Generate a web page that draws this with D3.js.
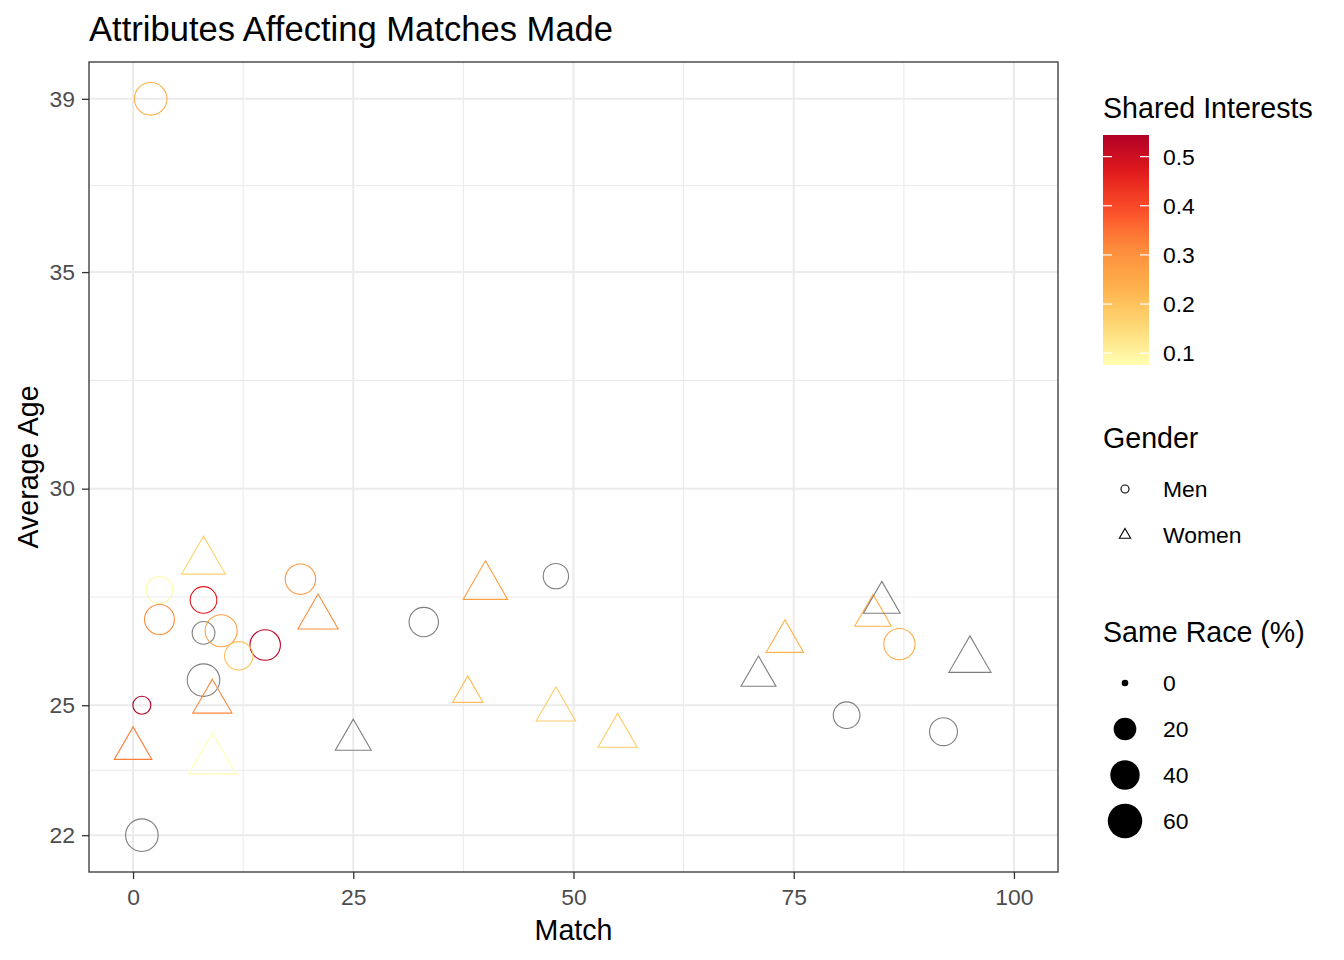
<!DOCTYPE html>
<html>
<head>
<meta charset="utf-8">
<script src="https://cdn.jsdelivr.net/npm/d3@7"></script>
<style>
	body { margin: 0; background: #fff; }
	svg { display: block; font-family: "Liberation Sans", Arial, sans-serif; }
</style>
</head>
<body>
<svg id="chart" width="1344" height="960"></svg>
<script>
// data, one entry per couple group
var match = [2, 8, 3, 8, 3, 8, 10, 15, 12, 19, 21, 8, 9, 1, 0, 9, 1, 25, 33, 38, 40, 48, 48, 55, 71, 74, 81, 84, 85, 87, 92, 95];
var avgAge = [39.0, 28.32, 27.66, 27.43, 26.98, 26.67, 26.72, 26.39, 26.14, 27.91, 27.03, 25.58, 25.08, 25.0, 24.0, 23.73, 22.0, 24.2, 26.92, 25.27, 27.74, 27.98, 24.9, 24.29, 25.67, 26.47, 24.77, 27.07, 27.37, 26.41, 24.39, 26.04];
var sharedInterests = [0.24, 0.17, 0.09, 0.47, 0.31, null, 0.27, 0.53, 0.20, 0.29, 0.31, null, 0.32, 0.544, 0.33, 0.076, null, null, null, 0.21, 0.27, null, 0.18, 0.18, null, 0.23, null, 0.23, null, 0.25, null, null];
var sameRace = [52, 52, 31, 31, 42, 20, 50, 44, 37, 44, 42, 52, 39, 10, 35, 63, 52, 31, 40, 20, 54, 27, 40, 39, 29, 35, 31, 33, 33, 47, 35, 47];
var gender = ["Men", "Women", "Men", "Men", "Men", "Men", "Men", "Men", "Men", "Men", "Women", "Men", "Women", "Men", "Women", "Women", "Men", "Women", "Men", "Women", "Women", "Men", "Women", "Women", "Women", "Women", "Men", "Women", "Women", "Men", "Men", "Women"];

var xTicks = [0, 25, 50, 75, 100];
var yTicks = [22, 25, 30, 35, 39];
var colorTicks = [0.1, 0.2, 0.3, 0.4, 0.5];
var sizeBreaks = [0, 20, 40, 60];
var genders = ["Men", "Women"];
var ylorrd = ["#FFFFB2", "#FED976", "#FEB24C", "#FD8D3C", "#FC4E2A", "#E31A1C", "#B10026"];

(function(){
	'use strict';

	var svg = d3.select("#chart");
	var panel = {left: 89, top: 62, right: 1058, bottom: 872};

	var points = match.map(function(m, i){
		return {x: m, y: avgAge[i], c: sharedInterests[i], s: sameRace[i], g: gender[i]};
	});

	// scales, expanded 5% like ggplot does
	var x = d3.scaleLinear().domain([-5, 105]).range([panel.left, panel.right]);
	var y = d3.scaleLinear().domain([21.15, 39.85]).range([panel.bottom, panel.top]);
	var r = d3.scaleSqrt().domain([0, 64]).range([3.3, 17.7]);

	var cExtent = d3.extent(sharedInterests.filter(function(d){ return d !== null; }));
	var color = d3.scaleLinear()
		.domain(d3.range(ylorrd.length).map(function(i){
			return cExtent[0] + (cExtent[1] - cExtent[0]) * i / (ylorrd.length - 1);
		}))
		.range(ylorrd)
		.interpolate(d3.interpolateLab);
	function colorOf(v){ return v === null ? "#7F7F7F" : color(v); }

	// triangle with the same area as the circle of radius R (R graphics pch 2)
	function triangle(R){
		var rc = 1.5551 * R, xc = 1.3468 * R, yc = 0.7776 * R;
		return "M0," + (-rc) + "L" + xc + "," + yc + "L" + (-xc) + "," + yc + "Z";
	}

	// title
	svg.append("text")
		.attr("x", 89).attr("y", 41)
		.attr("font-size", 34.6)
		.text("Attributes Affecting Matches Made");

	// grid
	var grid = svg.append("g");
	var xMinor = [12.5, 37.5, 62.5, 87.5];
	var yMinor = [23.5, 27.5, 32.5, 37];
	grid.selectAll(".xminor").data(xMinor).enter().append("line")
		.attr("x1", x).attr("x2", x)
		.attr("y1", panel.top).attr("y2", panel.bottom)
		.attr("stroke", "#EBEBEB").attr("stroke-width", 1.1);
	grid.selectAll(".yminor").data(yMinor).enter().append("line")
		.attr("y1", y).attr("y2", y)
		.attr("x1", panel.left).attr("x2", panel.right)
		.attr("stroke", "#EBEBEB").attr("stroke-width", 1.1);
	grid.selectAll(".xmajor").data(xTicks).enter().append("line")
		.attr("x1", x).attr("x2", x)
		.attr("y1", panel.top).attr("y2", panel.bottom)
		.attr("stroke", "#EBEBEB").attr("stroke-width", 2);
	grid.selectAll(".ymajor").data(yTicks).enter().append("line")
		.attr("y1", y).attr("y2", y)
		.attr("x1", panel.left).attr("x2", panel.right)
		.attr("stroke", "#EBEBEB").attr("stroke-width", 2);

	// points
	svg.append("g").selectAll("path")
		.data(points)
		.enter().append("path")
		.attr("transform", function(d){ return "translate(" + x(d.x) + "," + y(d.y) + ")"; })
		.attr("d", function(d){
			var R = r(d.s);
			if(d.g === "Women") return triangle(R);
			return d3.arc()({innerRadius: 0, outerRadius: R, startAngle: 0, endAngle: 2 * Math.PI});
		})
		.attr("fill", "none")
		.attr("stroke", function(d){ return colorOf(d.c); })
		.attr("stroke-width", 1.1)
		.attr("stroke-linejoin", "miter");

	// panel border
	svg.append("rect")
		.attr("x", panel.left).attr("y", panel.top)
		.attr("width", panel.right - panel.left).attr("height", panel.bottom - panel.top)
		.attr("fill", "none").attr("stroke", "#333333").attr("stroke-width", 1.3);

	// axes
	var xAxis = d3.axisBottom(x).tickValues(xTicks).tickSize(7).tickPadding(10);
	var yAxis = d3.axisLeft(y).tickValues(yTicks).tickSize(7).tickPadding(7);
	var gx = svg.append("g").attr("transform", "translate(0," + panel.bottom + ")").call(xAxis);
	var gy = svg.append("g").attr("transform", "translate(" + panel.left + ",0)").call(yAxis);
	[gx, gy].forEach(function(g){
		g.select(".domain").remove();
		g.selectAll(".tick line").attr("stroke", "#333333").attr("stroke-width", 1.3);
		g.selectAll(".tick text")
			.attr("fill", "#4D4D4D")
			.attr("font-size", 22.9)
			.attr("font-family", "Liberation Sans, Arial, sans-serif");
	});

	svg.append("text")
		.attr("x", (panel.left + panel.right) / 2).attr("y", 940)
		.attr("text-anchor", "middle")
		.attr("font-size", 28.6)
		.text("Match");
	svg.append("text")
		.attr("transform", "translate(38," + (panel.top + panel.bottom) / 2 + ") rotate(-90)")
		.attr("text-anchor", "middle")
		.attr("font-size", 28.6)
		.text("Average Age");

	// legend: colour bar
	var lx = 1103;
	svg.append("text").attr("x", lx).attr("y", 118).attr("font-size", 28.6).text("Shared Interests");

	var bar = {top: 135, bottom: 365, width: 46};
	var barScale = d3.scaleLinear().domain(cExtent).range([bar.bottom, bar.top]);
	var grad = svg.append("defs").append("linearGradient")
		.attr("id", "sharedGrad")
		.attr("x1", 0).attr("y1", 1).attr("x2", 0).attr("y2", 0);
	grad.selectAll("stop")
		.data(d3.range(0, 1.0001, 0.05))
		.enter().append("stop")
		.attr("offset", function(t){ return t; })
		.attr("stop-color", function(t){ return color(cExtent[0] + t * (cExtent[1] - cExtent[0])); });
	svg.append("rect")
		.attr("x", lx).attr("y", bar.top)
		.attr("width", bar.width).attr("height", bar.bottom - bar.top)
		.attr("fill", "url(#sharedGrad)");

	var cTick = svg.append("g").selectAll("g").data(colorTicks).enter().append("g");
	cTick.append("line")
		.attr("x1", lx).attr("x2", lx + 9)
		.attr("y1", barScale).attr("y2", barScale)
		.attr("stroke", "#fff").attr("stroke-width", 1.2);
	cTick.append("line")
		.attr("x1", lx + bar.width - 9).attr("x2", lx + bar.width)
		.attr("y1", barScale).attr("y2", barScale)
		.attr("stroke", "#fff").attr("stroke-width", 1.2);
	cTick.append("text")
		.attr("x", 1163).attr("y", barScale)
		.attr("dy", "0.36em")
		.attr("font-size", 22.9)
		.text(function(d){ return d3.format(".1f")(d); });

	// legend: gender shapes
	svg.append("text").attr("x", lx).attr("y", 448).attr("font-size", 28.6).text("Gender");
	var gKey = svg.append("g").selectAll("g").data(genders).enter().append("g")
		.attr("transform", function(d, i){ return "translate(1125," + (489 + i * 46) + ")"; });
	gKey.append("path")
		.attr("d", function(d){
			if(d === "Women") return triangle(4.2);
			return d3.arc()({innerRadius: 0, outerRadius: 4, startAngle: 0, endAngle: 2 * Math.PI});
		})
		.attr("fill", "none").attr("stroke", "#000").attr("stroke-width", 1.1);
	gKey.append("text")
		.attr("x", 38).attr("dy", "0.36em")
		.attr("font-size", 22.9)
		.text(function(d){ return d; });

	// legend: same race sizes
	svg.append("text").attr("x", lx).attr("y", 642).attr("font-size", 28.6).text("Same Race (%)");
	var sKey = svg.append("g").selectAll("g").data(sizeBreaks).enter().append("g")
		.attr("transform", function(d, i){ return "translate(1125," + (683 + i * 46) + ")"; });
	sKey.append("circle")
		.attr("r", function(d){ return r(d); })
		.attr("fill", "#000");
	sKey.append("text")
		.attr("x", 38).attr("dy", "0.36em")
		.attr("font-size", 22.9)
		.text(function(d){ return d; });
}());
</script>
</body>
</html>
